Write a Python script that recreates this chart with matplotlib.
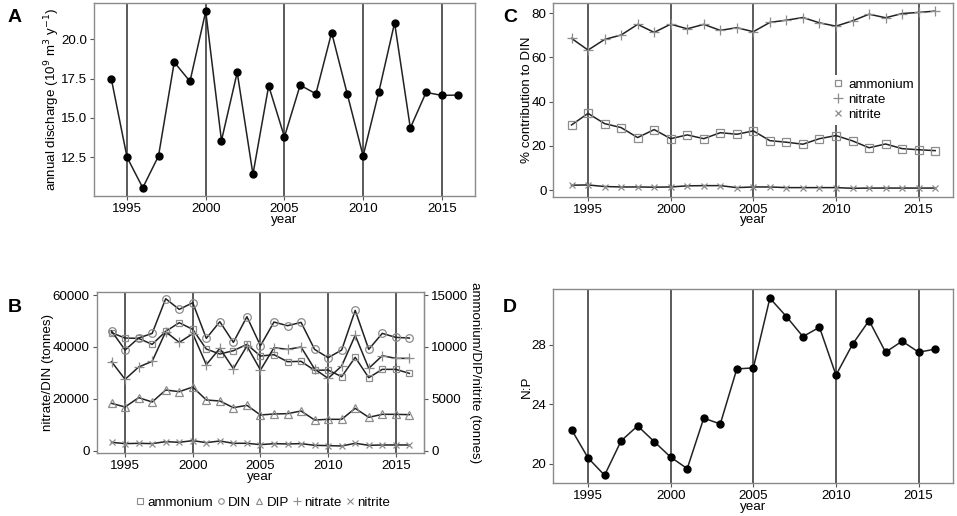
import numpy as np
import matplotlib
matplotlib.use("Agg")
import matplotlib.pyplot as plt

plt.rcParams['font.family'] = ['Liberation Sans', 'DejaVu Sans']

years = list(range(1994, 2017))
vlines = [1995, 2000, 2005, 2010, 2015]

# A: annual discharge
discharge = [17.49, 12.50, 10.56, 12.58, 18.54, 17.32, 21.77, 13.56, 17.89, 11.42, 17.04, 13.79,
             17.08, 16.53, 20.42, 16.49, 12.58, 16.66, 21.04, 14.36, 16.62, 16.43, 16.45]

# B: loads (tonnes)
din_t = [46124, 38800, 43426, 45225, 58587, 54476, 57045, 43298, 49722, 41756, 51649, 40471,
         49594, 48180, 49465, 39058, 35846, 38800, 54090, 39058, 45225, 43683, 43426]
nitrate_t = [34304, 27495, 32248, 34433, 45867, 41756, 45096, 33148, 39443, 31606, 40343, 31092,
             39700, 39058, 39957, 31477, 27880, 32634, 44454, 31734, 36617, 35589, 35589]
ammonium_t = [11371, 10857, 10825, 10246, 11499, 12334, 11692, 9797, 9315, 9636, 10246, 9122,
              9251, 8576, 8608, 7741, 7773, 7131, 8994, 7034, 7837, 7837, 7452]
dip_t = [4561, 4208, 5107, 4690, 5846, 5685, 6135, 4882, 4786, 4143, 4368, 3437,
         3533, 3565, 3822, 2955, 3019, 3019, 4079, 3212, 3501, 3501, 3469]
nitrite_t = [803, 675, 707, 675, 867, 803, 964, 771, 931, 707, 707, 578,
             675, 642, 675, 514, 482, 450, 707, 514, 546, 546, 546]

# C: % contribution to DIN
pct_ammonium = [29.5, 34.7, 30.1, 28.3, 23.8, 27.4, 23.3, 25.0, 23.3, 26.0, 25.3, 26.8,
                22.4, 21.7, 20.8, 23.3, 24.7, 22.3, 19.2, 20.9, 18.8, 18.3, 17.9]
pct_nitrate = [68.6, 63.3, 68.1, 70.1, 74.9, 71.3, 75.0, 72.9, 74.9, 72.2, 73.4, 71.6,
               75.8, 76.8, 78.0, 75.6, 74.1, 76.5, 79.5, 77.9, 79.8, 80.3, 80.9]
pct_nitrite = [2.3, 2.4, 1.7, 1.5, 1.5, 1.4, 1.5, 2.0, 2.1, 2.1, 1.2, 1.5,
               1.5, 1.2, 1.2, 1.2, 1.2, 0.9, 1.0, 1.0, 1.0, 1.0, 1.0]

# D: N:P ratio
np_ratio = [22.29, 20.38, 19.21, 21.53, 22.54, 21.48, 20.43, 19.66, 23.06, 22.67, 26.38, 26.45,
            31.15, 29.91, 28.56, 29.19, 25.96, 28.04, 29.64, 27.51, 28.25, 27.51, 27.71]

FS = 9.6
LINE = '#222222'
MK = '#8c8c8c'
VL = '#4d4d4d'
BORDER = '#8a8a8a'


def style(ax, ylabel):
    for s in ax.spines.values():
        s.set_color(BORDER)
        s.set_linewidth(1.0)
    ax.tick_params(direction='out', length=3, width=0.8, color='#555555', labelsize=FS, pad=2)
    ax.set_xlim(1992.9, 2017.1)
    ax.set_xticks(vlines)
    for v in vlines:
        ax.axvline(v, color=VL, lw=1.3, zorder=1)
    ax.set_xlabel('year', fontsize=FS, labelpad=-1)
    ax.set_ylabel(ylabel, fontsize=FS, labelpad=-1)


fig = plt.figure(figsize=(9.57, 5.16), dpi=100)

# panel A
axA = fig.add_axes([0.0982, 0.6202, 0.398, 0.374])
style(axA, 'annual discharge (10$^{9}$ m$^{3}$ y$^{-1}$)')
axA.plot(years, discharge, color=LINE, lw=1.1, marker='o', ms=5, mfc='black', mec='black', zorder=3)
axA.set_ylim(10.04, 22.3)
axA.set_yticks([12.5, 15.0, 17.5, 20.0])
axA.set_yticklabels(['12.5', '15.0', '17.5', '20.0'])

# panel C
axC = fig.add_axes([0.5782, 0.6188, 0.418, 0.376])
style(axC, '% contribution to DIN')
mk_kw = dict(color=LINE, lw=1.1, mfc='none', mec=MK, mew=0.9, zorder=3)
axC.plot(years, pct_ammonium, marker='s', ms=5.5, **mk_kw)
axC.plot(years, pct_nitrate, marker='+', ms=7, **mk_kw)
axC.plot(years, pct_nitrite, marker='x', ms=5, **mk_kw)
axC.set_ylim(-2.9, 84.7)
axC.set_yticks([0, 20, 40, 60, 80])
legC = axC.legend(handles=[
    plt.Line2D([], [], ls='none', marker='s', ms=5, mfc='none', mec=MK, mew=0.9),
    plt.Line2D([], [], ls='none', marker='+', ms=7, mec=MK, mew=0.9),
    plt.Line2D([], [], ls='none', marker='x', ms=5, mec=MK, mew=0.9)],
    labels=['ammonium', 'nitrate', 'nitrite'], loc='center', bbox_to_anchor=(0.80, 0.50),
    fontsize=FS, frameon=True, handlelength=0.8, handletextpad=0.4,
    borderpad=0.3, labelspacing=0.2)
legC.get_frame().set_edgecolor('none')
legC.get_frame().set_facecolor('white')
legC.get_frame().set_alpha(1)
legC.set_zorder(5)

# panel B (right-axis series scaled by 4 on the primary axis)
axB = fig.add_axes([0.101, 0.1215, 0.3423, 0.3132])
style(axB, 'nitrate/DIN (tonnes)')
scale = 4
axB.plot(years, np.array(ammonium_t) * scale, marker='s', ms=5, **mk_kw)
axB.plot(years, din_t, marker='o', ms=5.5, **mk_kw)
axB.plot(years, np.array(dip_t) * scale, marker='^', ms=5.5, **mk_kw)
axB.plot(years, nitrate_t, marker='+', ms=7, **mk_kw)
axB.plot(years, np.array(nitrite_t) * scale, marker='x', ms=4.5, **mk_kw)
axB.set_ylim(-1030, 61300)
axB.set_yticks([0, 20000, 40000, 60000])
sec = axB.secondary_yaxis('right', functions=(lambda v: v / scale, lambda v: v * scale))
sec.set_yticks([0, 5000, 10000, 15000])
sec.tick_params(direction='out', length=3, width=0.8, color='#555555', labelsize=FS, pad=2)
sec.spines['right'].set_color(BORDER)
sec.set_ylabel('ammonium/DIP/nitrite (tonnes)', fontsize=FS, rotation=270, labelpad=9)

fig.legend(handles=[
    plt.Line2D([], [], ls='none', marker='s', ms=4, mfc='none', mec=MK, mew=0.8),
    plt.Line2D([], [], ls='none', marker='o', ms=4, mfc='none', mec=MK, mew=0.8),
    plt.Line2D([], [], ls='none', marker='^', ms=4, mfc='none', mec=MK, mew=0.8),
    plt.Line2D([], [], ls='none', marker='+', ms=6, mec=MK, mew=0.8),
    plt.Line2D([], [], ls='none', marker='x', ms=4, mec=MK, mew=0.8)],
    labels=['ammonium', 'DIN', 'DIP', 'nitrate', 'nitrite'], loc='center',
    bbox_to_anchor=(263 / 957, 1 - 503 / 516), ncol=5, fontsize=FS, frameon=False,
    handlelength=0.6, handletextpad=0.25, columnspacing=0.3)

# panel D
axD = fig.add_axes([0.5782, 0.0634, 0.418, 0.376])
style(axD, 'N:P')
axD.plot(years, np_ratio, color=LINE, lw=1.1, marker='o', ms=5, mfc='black', mec='black', zorder=3)
axD.set_ylim(18.67, 31.75)
axD.set_yticks([20, 24, 28])

for lab, x, y in [('A', 15, 18), ('B', 15, 307), ('C', 510, 17), ('D', 510, 307)]:
    fig.text(x / 957, 1 - y / 516, lab, fontsize=14, fontweight='bold', ha='center', va='center')

fig.savefig('out.png', dpi=100)
